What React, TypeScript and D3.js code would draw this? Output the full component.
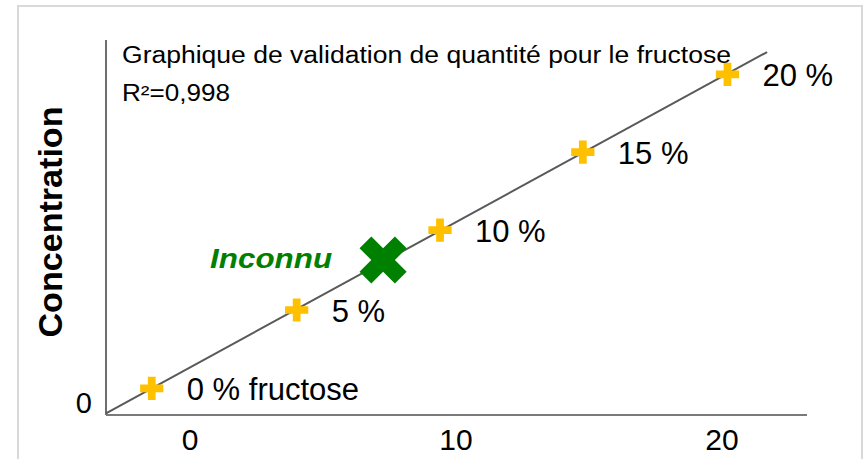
import React from "react";
import * as d3 from "d3";

// Calibration standards (x, y) and their labels
const standardLabels = ["0 % fructose", "5 %", "10 %", "15 %", "20 %"];
const standardX = [-1.44, 4.01, 9.4, 14.77, 20.21];
const standardY = [0.98, 6.2, 11.53, 16.73, 21.91];

// Unknown sample
const unknownLabel = "Inconnu";
const unknownX = [7.26];
const unknownY = [9.53];

// Axis ticks
const xTicks = [0, 10, 20];
const yTicks = [0];

// Axis domains and the extent of the trend line
const xDomain = [-3.16, 23.2];
const yDomain = [-0.8, 24.2];
const trendExtent = [-3.16, 21.7];

const titleText = "Graphique de validation de quantité pour le fructose";
const r2Text = "R²=0,998";
const yAxisTitle = "Concentration";

const W = 866;
const H = 459;
const FONT = "'Liberation Sans', Arial, Helvetica, sans-serif";

export default function App() {
  const x = d3.scaleLinear().domain(xDomain).range([106, 807]);
  const y = d3.scaleLinear().domain(yDomain).range([415, 40]);

  // least-squares trend line through the standards
  const n = standardX.length;
  const mx = d3.mean(standardX) as number;
  const my = d3.mean(standardY) as number;
  let sxy = 0;
  let sxx = 0;
  for (let i = 0; i < n; i++) {
    sxy += (standardX[i] - mx) * (standardY[i] - my);
    sxx += (standardX[i] - mx) ** 2;
  }
  const slope = sxy / sxx;
  const intercept = my - slope * mx;
  const trend = d3
    .line<number>()
    .x((d) => x(d))
    .y((d) => y(intercept + slope * d))(trendExtent);

  const plus = d3.symbol(d3.symbolCross, 300)() as string;
  const cross = d3.symbol(d3.symbolCross, 1389)() as string;

  return (
    <svg
      width={W}
      height={H}
      style={{ position: "absolute", left: 0, top: 0, background: "#fff" }}
    >
      <rect x={18} y={6} width={844} height={470} fill="#fff" stroke="#d9d9d9" strokeWidth={2} />

      {/* axes */}
      <line x1={x(xDomain[0])} x2={x(xDomain[0])} y1={y(yDomain[1])} y2={y(yDomain[0])} stroke="#6e6e6e" strokeWidth={2} />
      <line x1={x(xDomain[0])} x2={x(xDomain[1])} y1={y(yDomain[0])} y2={y(yDomain[0])} stroke="#7a7a7a" strokeWidth={2} />

      {xTicks.map((t) => (
        <text key={t} x={x(t)} y={450} textAnchor="middle" fontFamily={FONT} fontSize={30} fill="#000">
          {t}
        </text>
      ))}
      {yTicks.map((t) => (
        <text key={t} x={92} y={y(t) + 10} textAnchor="end" fontFamily={FONT} fontSize={29} fill="#000">
          {t}
        </text>
      ))}

      <text
        transform={`translate(62, 222) rotate(-90)`}
        textAnchor="middle"
        fontFamily={FONT}
        fontSize={34}
        fontWeight="bold"
        fill="#000"
        textLength={231}
        lengthAdjust="spacingAndGlyphs"
      >
        {yAxisTitle}
      </text>

      {/* trend line */}
      <path d={trend as string} fill="none" stroke="#595959" strokeWidth={2} />

      {/* standards */}
      {standardX.map((v, i) => (
        <g key={i}>
          <path d={plus} transform={`translate(${x(v)},${y(standardY[i])})`} fill="#FFC000" />
          <text x={x(v) + 35} y={y(standardY[i]) + 12} fontFamily={FONT} fontSize={31} fill="#000">
            {standardLabels[i]}
          </text>
        </g>
      ))}

      {/* unknown sample */}
      {unknownX.map((v, i) => (
        <g key={i}>
          <path d={cross} transform={`translate(${x(v)},${y(unknownY[i])}) rotate(45)`} fill="#008000" />
          <text
            x={x(v) - 173}
            y={y(unknownY[i]) + 8}
            fontFamily={FONT}
            fontSize={28}
            fontWeight="bold"
            fontStyle="italic"
            fill="#008000"
            textLength={122}
            lengthAdjust="spacingAndGlyphs"
          >
            {unknownLabel}
          </text>
        </g>
      ))}

      <text x={122} y={63} fontFamily={FONT} fontSize={23} fill="#000" textLength={609} lengthAdjust="spacingAndGlyphs">
        {titleText}
      </text>
      <text x={122} y={101} fontFamily={FONT} fontSize={23} fill="#000" textLength={108} lengthAdjust="spacingAndGlyphs">
        {r2Text}
      </text>
    </svg>
  );
}
